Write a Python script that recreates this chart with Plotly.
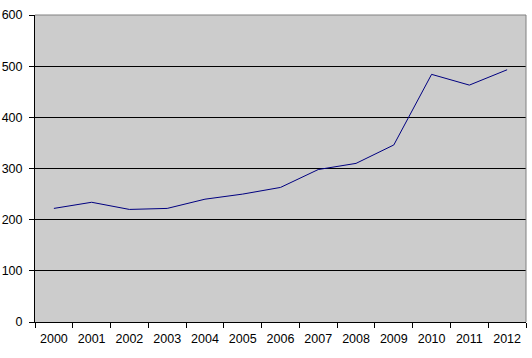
import plotly.graph_objects as go

years = ["2000", "2001", "2002", "2003", "2004", "2005", "2006",
         "2007", "2008", "2009", "2010", "2011", "2012"]
values = [222, 234, 220, 222, 240, 250, 263, 298, 310, 346, 484, 463, 493]
y_ticks = [0, 100, 200, 300, 400, 500, 600]

fig = go.Figure(go.Scatter(
    x=years, y=values, mode="lines",
    line=dict(color="#000080", width=1),
))

font = dict(family="Liberation Sans, Arial, sans-serif", size=12.5, color="#000000")

fig.update_layout(
    width=532, height=358,
    margin=dict(l=35, r=6, t=15, b=36, autoexpand=False),
    paper_bgcolor="#FFFFFF",
    plot_bgcolor="#CCCCCC",
    showlegend=False,
    font=font,
    xaxis=dict(
        type="category", range=[-0.5, 12.5], automargin=False,
        tickson="boundaries", ticks="outside", ticklen=5, tickcolor="#000000",
        showline=True, linecolor="#000000", linewidth=1,
        showgrid=False, tickfont=font, fixedrange=True, ticklabelstandoff=5,
    ),
    yaxis=dict(
        range=[0, 600], tickvals=y_ticks, automargin=False,
        ticks="outside", ticklen=5, tickcolor="#000000",
        showline=True, linecolor="#000000", linewidth=1,
        showgrid=True, gridcolor="#000000", gridwidth=1,
        zeroline=False, tickfont=font, ticklabelstandoff=4,
    ),
    shapes=[
        dict(type="line", xref="paper", yref="paper", x0=0, x1=1, y0=1, y1=1,
             line=dict(color="#808080", width=1), layer="above"),
        dict(type="line", xref="paper", yref="paper", x0=1, x1=1, y0=0, y1=1,
             line=dict(color="#808080", width=1), layer="above"),
    ],
)

fig.write_html("out.html", config={"displayModeBar": False},
               post_script="document.body.style.margin='0';")
